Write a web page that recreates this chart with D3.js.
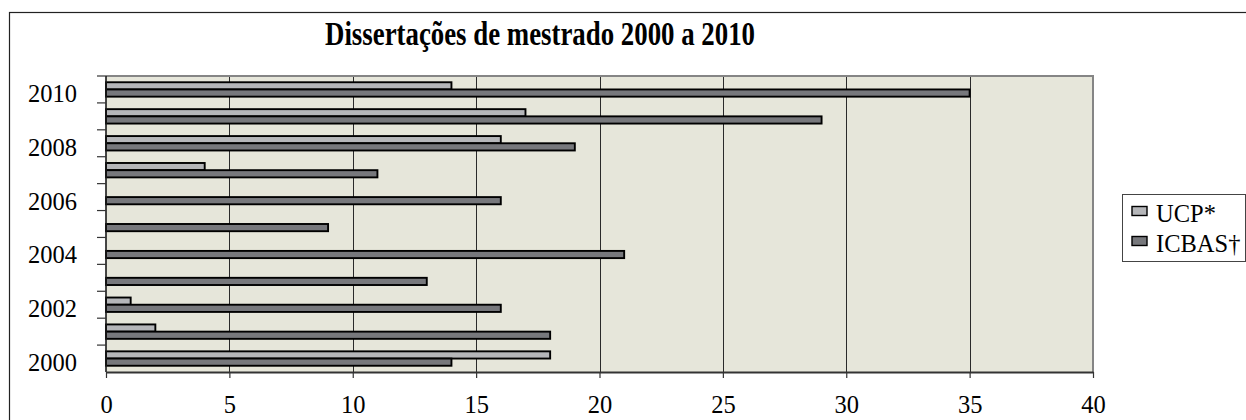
<!DOCTYPE html>
<html>
<head>
<meta charset="utf-8">
<script src="https://cdn.jsdelivr.net/npm/d3@7"></script>
<style>
  html, body { margin: 0; padding: 0; background: #fff; }
  svg { display: block; }
</style>
</head>
<body>
<svg id="chart" width="1246" height="420"></svg>
<script>
// --- DATA ---
const years = ["2000", "2001", "2002", "2003", "2004", "2005", "2006", "2007", "2008", "2009", "2010"];
const yearLabels = ["2000", "2002", "2004", "2006", "2008", "2010"];
const seriesNames = ["UCP*", "ICBAS†"];
const ucpValues = [18, 2, 1, 0, 0, 0, 0, 4, 16, 17, 14];
const icbasValues = [14, 18, 16, 13, 21, 9, 16, 11, 19, 29, 35];
const xTicks = [0, 5, 10, 15, 20, 25, 30, 35, 40];

// --- CONFIG ---
const PLOT = { left: 106, right: 1093, top: 76, bottom: 372 };
const COLORS = { "UCP*": "#b5b6b9", "ICBAS†": "#77787c" };
const FONT = "'Liberation Serif', 'Times New Roman', serif";

const svg = d3.select("#chart");

// outer chart border (runs off the right/bottom of the picture)
svg.append("rect")
  .attr("x", 9.5).attr("y", 12.5)
  .attr("width", 1300).attr("height", 500)
  .attr("fill", "none").attr("stroke", "#222").attr("stroke-width", 1.2);

// title
svg.append("text")
  .attr("x", 325).attr("y", 45)
  .attr("textLength", 430).attr("lengthAdjust", "spacingAndGlyphs")
  .style("font-family", FONT).style("font-size", "33px").style("font-weight", "bold")
  .text("Dissertações de mestrado 2000 a 2010");

// --- SCALES ---
const x = d3.scaleLinear().domain([0, 40]).range([PLOT.left, PLOT.right]);
const y0 = d3.scaleBand().domain(years.slice().reverse()).range([PLOT.top, PLOT.bottom]).padding(0);
const bw = y0.bandwidth();
const y1 = d3.scaleBand().domain(seriesNames).range([bw / 2 - 7.2, bw / 2 + 7.2]).padding(0);

// plot background
svg.append("rect")
  .attr("x", PLOT.left).attr("y", PLOT.top)
  .attr("width", PLOT.right - PLOT.left).attr("height", PLOT.bottom - PLOT.top)
  .attr("fill", "#e6e6da");

// gridlines
svg.append("g").selectAll("line")
  .data(xTicks.filter(t => t > 0 && t < 40))
  .enter().append("line")
  .attr("x1", d => Math.round(x(d)) + 0.5).attr("x2", d => Math.round(x(d)) + 0.5)
  .attr("y1", PLOT.top).attr("y2", PLOT.bottom)
  .attr("stroke", "#2a2a2a").attr("stroke-width", 1);

// plot frame: top & right grey
svg.append("path")
  .attr("d", `M${PLOT.left},${PLOT.top}H${PLOT.right}V${PLOT.bottom}`)
  .attr("fill", "none").attr("stroke", "#858585").attr("stroke-width", 2);

// --- BARS ---
const rows = years.map((yr, i) => ({ year: yr, values: [
  { name: "UCP*", value: ucpValues[i] },
  { name: "ICBAS†", value: icbasValues[i] }
]}));

const groups = svg.append("g").selectAll("g")
  .data(rows).enter().append("g")
  .attr("transform", d => `translate(0,${y0(d.year)})`);

groups.selectAll("rect")
  .data(d => d.values.filter(v => v.value > 0))
  .enter().append("rect")
  .attr("x", x(0))
  .attr("y", d => y1(d.name))
  .attr("width", d => x(d.value) - x(0))
  .attr("height", y1.bandwidth())
  .attr("fill", d => COLORS[d.name])
  .attr("stroke", "#000").attr("stroke-width", 1.9);

// --- AXES ---
// y axis: line, ticks at band edges, labels every other year
const yAxis = svg.append("g");
yAxis.append("line")
  .attr("x1", PLOT.left).attr("x2", PLOT.left)
  .attr("y1", PLOT.top).attr("y2", PLOT.bottom)
  .attr("stroke", "#1a1a1a").attr("stroke-width", 1.6);
yAxis.selectAll(".tick")
  .data(years).enter().append("line")
  .attr("x1", PLOT.left - 9).attr("x2", PLOT.left)
  .attr("y1", d => y0(d)).attr("y2", d => y0(d))
  .attr("stroke", "#333").attr("stroke-width", 1.2);
yAxis.selectAll("text")
  .data(yearLabels).enter().append("text")
  .attr("x", 77).attr("y", d => y0(d) + bw - 1)
  .attr("text-anchor", "end")
  .style("font-family", FONT).style("font-size", "24.5px")
  .text(d => d);

// x axis
const xAxis = svg.append("g")
  .attr("transform", `translate(0,${PLOT.bottom})`)
  .call(d3.axisBottom(x).tickValues(xTicks).tickSize(6).tickPadding(18).tickSizeOuter(0));
xAxis.select(".domain").attr("stroke", "#333").attr("stroke-width", 2);
xAxis.selectAll(".tick line").attr("stroke", "#333").attr("stroke-width", 1.2);
xAxis.selectAll("text")
  .style("font-family", FONT).style("font-size", "24.5px").attr("fill", "#000");

// --- LEGEND ---
const legend = svg.append("g");
legend.append("rect")
  .attr("x", 1122.5).attr("y", 194.5).attr("width", 123).attr("height", 67)
  .attr("fill", "#fff").attr("stroke", "#444").attr("stroke-width", 1);
const items = legend.selectAll(".item")
  .data(seriesNames).enter().append("g")
  .attr("transform", (d, i) => `translate(1132,${206.5 + i * 30})`);
items.append("rect")
  .attr("width", 15).attr("height", 9)
  .attr("fill", d => COLORS[d]).attr("stroke", "#000").attr("stroke-width", 1.4);
items.append("text")
  .attr("x", 24).attr("y", 15.5)
  .style("font-family", FONT).style("font-size", "24.5px")
  .text(d => d);
</script>
</body>
</html>
